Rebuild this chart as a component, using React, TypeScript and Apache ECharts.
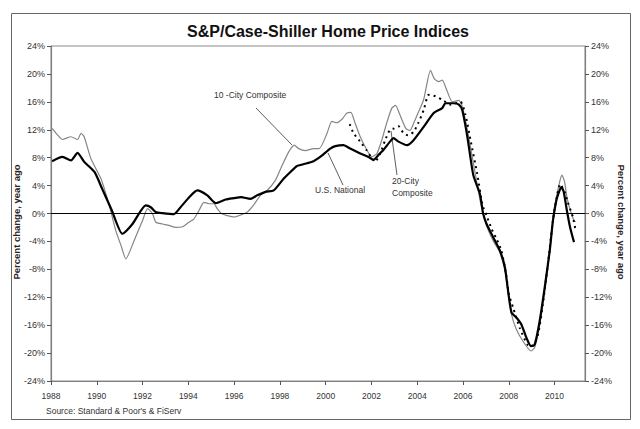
import React, { useEffect, useRef } from "react";
import * as echarts from "echarts";

const FONT = '"Liberation Sans", Arial, Helvetica, sans-serif';

const yTickValues = [-24, -20, -16, -12, -8, -4, 0, 4, 8, 12, 16, 20, 24];
const xTickYears = [1988, 1990, 1992, 1994, 1996, 1998, 2000, 2002, 2004, 2006, 2008, 2010];

// 10-City Composite (thin gray)
const tenCityYears = [
  1988.05, 1988.3, 1988.5, 1988.87, 1989.16, 1989.31, 1989.45, 1989.74, 1990.18, 1990.4,
  1990.6, 1990.83, 1991.05, 1991.27, 1991.63, 1992.0, 1992.22, 1992.43, 1992.58, 1992.87,
  1993.15, 1993.45, 1993.75, 1994.0, 1994.24, 1994.46, 1994.68, 1994.9, 1995.12, 1995.26,
  1995.45, 1995.7, 1996.0, 1996.3, 1996.57, 1996.85, 1997.15, 1997.44, 1997.8, 1998.1,
  1998.38, 1998.63, 1998.82, 1999.11, 1999.47, 1999.72, 2000.06, 2000.27, 2000.49, 2000.71,
  2000.93, 2001.1, 2001.29, 2001.51, 2001.8, 2002.02, 2002.24, 2002.45, 2002.67, 2002.89,
  2003.05, 2003.26, 2003.5, 2003.68, 2003.84, 2004.05, 2004.28, 2004.58, 2004.75, 2004.94,
  2005.09, 2005.31, 2005.53, 2005.82, 2005.97, 2006.19, 2006.48, 2006.75, 2006.9, 2007.06,
  2007.3, 2007.6, 2007.85, 2008.0, 2008.12, 2008.33, 2008.62, 2008.97, 2009.13, 2009.35,
  2009.57, 2009.79, 2009.93, 2010.08, 2010.22, 2010.32, 2010.44, 2010.54, 2010.7, 2010.85,
  2010.92,
];
const tenCityValues = [
  12.2, 11.2, 10.6, 11.0, 10.6, 11.5, 11.0, 7.9, 5.0, 2.8,
  0.5, -2.45, -4.5, -6.5, -3.9, -1.0, 0.7, 0.0, -1.25, -1.5,
  -1.7, -2.0, -1.9, -1.3, -0.8, 0.4, 1.6, 1.4, 1.4, 0.7,
  0.0, -0.3, -0.5, -0.2, 0.2, 1.2, 2.6, 3.3, 4.75, 6.9,
  8.8, 9.8, 9.3, 9.0, 9.3, 9.3, 11.5, 13.2, 13.0, 13.5,
  14.4, 14.5, 12.9, 11.0, 9.1, 8.1, 8.6, 10.5, 13.0, 15.1,
  15.5, 14.0, 12.2, 11.9, 12.9, 14.5, 16.3, 20.5, 19.3, 18.9,
  19.1, 17.5, 16.0, 16.2, 15.3, 12.0, 6.7, 1.8, -0.3, -2.0,
  -3.8, -5.5, -8.5, -12.0, -14.5, -16.6, -18.3, -19.7, -19.2, -16.0,
  -11.0, -5.5, -1.0, 2.3, 4.5, 5.5, 4.5, 2.3, 0.3, -1.0,
  -1.2,
];

// 20-City Composite (dashed black)
const twentyCityYears = [
  2001.05, 2001.22, 2001.58, 2001.8, 2002.0, 2002.16, 2002.38, 2002.6, 2002.81, 2003.0,
  2003.18, 2003.4, 2003.6, 2003.84, 2004.05, 2004.28, 2004.5, 2004.8, 2005.09, 2005.46,
  2005.89, 2006.11, 2006.33, 2006.62, 2006.85, 2007.03, 2007.25, 2007.46, 2007.68, 2007.87,
  2008.01, 2008.19, 2008.48, 2008.82, 2009.04, 2009.28, 2009.49, 2009.71, 2009.93, 2010.08,
  2010.25, 2010.44, 2010.58, 2010.8, 2010.92,
];
const twentyCityValues = [
  12.8, 11.5, 10.0, 9.0, 8.0, 7.4, 8.6, 10.5, 12.0, 12.2,
  12.5, 11.5, 11.2, 11.7, 13.0, 14.8, 17.0, 16.8, 16.3, 15.6,
  16.0, 14.1, 10.5, 5.7, 1.2, -0.3, -2.2, -3.6, -5.3, -8.5,
  -11.6, -13.5, -16.4, -18.8, -19.0, -17.3, -13.0, -7.2, -1.0, 2.1,
  4.2, 3.1, 1.6, -0.5, -2.45,
];

// U.S. National (thick black)
const nationalYears = [
  1988.05, 1988.5, 1988.87, 1989.16, 1989.45, 1989.9, 1990.2, 1990.65, 1991.12, 1991.56,
  1992.14, 1992.36, 1992.58, 1992.87, 1993.37, 1993.66, 1994.03, 1994.39, 1994.83, 1995.2,
  1995.63, 1996.0, 1996.3, 1996.71, 1997.01, 1997.37, 1997.73, 1998.17, 1998.46, 1998.75,
  1999.19, 1999.47, 1999.76, 2000.2, 2000.42, 2000.78, 2001.07, 2001.51, 2001.87, 2002.09,
  2002.31, 2002.52, 2002.81, 2002.96, 2003.18, 2003.55, 2003.84, 2004.28, 2004.72, 2005.09,
  2005.23, 2005.6, 2005.82, 2005.97, 2006.19, 2006.45, 2006.74, 2006.88, 2007.03, 2007.32,
  2007.61, 2007.83, 2007.97, 2008.12, 2008.33, 2008.55, 2008.77, 2008.97, 2009.13, 2009.35,
  2009.57, 2009.79, 2009.93, 2010.08, 2010.22, 2010.3, 2010.4, 2010.54, 2010.68, 2010.85,
];
const nationalValues = [
  7.5, 8.1, 7.6, 8.7, 7.4, 5.95, 3.8, 0.5, -2.9, -1.5,
  1.15, 0.9, 0.2, 0.05, -0.1, 0.9, 2.3, 3.3, 2.6, 1.5,
  2.0, 2.2, 2.35, 2.1, 2.6, 3.1, 3.3, 5.0, 5.95, 6.8,
  7.2, 7.5, 8.1, 9.3, 9.65, 9.8, 9.3, 8.6, 8.1, 7.7,
  8.4, 9.1, 10.3, 10.8, 10.3, 9.8, 10.5, 12.4, 14.4, 15.1,
  15.8, 15.8, 15.6, 14.8, 11.0, 5.5, 2.8, 0.0, -1.5, -3.4,
  -5.3, -7.7, -11.1, -14.2, -14.9, -15.9, -17.8, -19.0, -18.8, -15.4,
  -10.6, -5.3, -1.0, 1.9, 3.3, 3.8, 3.1, 0.4, -2.0, -4.1,
];

const zip = (xs: number[], ys: number[]) => xs.map((x, i) => [x, ys[i]]);

export default function App() {
  const ref = useRef<HTMLDivElement>(null);

  useEffect(() => {
    if (!ref.current) return;
    const chart = echarts.init(ref.current, null, { renderer: "svg" });
    const labelStyle = { fontFamily: FONT, fontSize: 9, color: "#333" };
    const yAxisBase = {
      type: "value" as const,
      min: -24,
      max: 24,
      interval: 4,
      splitLine: { show: false },
      axisLine: { show: true, lineStyle: { color: "#808080", width: 1.2 } },
      axisTick: { show: true, inside: false, length: 4, lineStyle: { color: "#555" } },
      axisLabel: { ...labelStyle, margin: 6, formatter: (v: number) => `${v}%` },
    };
    chart.setOption({
      animation: false,
      backgroundColor: "#fff",
      grid: {
        left: 51,
        right: 55,
        top: 46,
        bottom: 48,
        show: true,
        borderColor: "#8a8a8a",
        borderWidth: 1,
        containLabel: false,
      },
      xAxis: {
        type: "value",
        min: 1988,
        max: 2011.33,
        interval: 2,
        splitLine: { show: false },
        axisLine: { show: true, onZero: false, lineStyle: { color: "#808080", width: 1.2 } },
        axisTick: { show: true, length: 4, lineStyle: { color: "#555" } },
        axisLabel: {
          fontFamily: FONT,
          fontSize: 8.5,
          color: "#333",
          margin: 10,
          showMaxLabel: false,
          formatter: (v: number) => (xTickYears.includes(v) ? String(v) : ""),
        },
      },
      yAxis: [
        { ...yAxisBase, position: "left" },
        { ...yAxisBase, position: "right" },
      ],
      series: [
        {
          name: "10-City Composite",
          type: "line",
          data: zip(tenCityYears, tenCityValues),
          showSymbol: false,
          smooth: 0.2,
          lineStyle: { color: "#858585", width: 1.2 },
          z: 2,
          markLine: {
            silent: true,
            symbol: "none",
            label: { show: false },
            lineStyle: { color: "#000", width: 1.2, type: "solid" },
            data: [{ yAxis: 0 }],
          },
        },
        {
          name: "20-City Composite",
          type: "line",
          data: zip(twentyCityYears, twentyCityValues),
          showSymbol: false,
          smooth: 0.2,
          lineStyle: { color: "#000", width: 2, type: [2, 4] },
          z: 3,
        },
        {
          name: "U.S. National",
          type: "line",
          data: zip(nationalYears, nationalValues),
          showSymbol: false,
          smooth: 0.2,
          lineStyle: { color: "#000", width: 2.2 },
          z: 4,
        },
      ],
      graphic: [
        {
          type: "rect",
          shape: { x: 11.5, y: 13.5, width: 619, height: 406 },
          style: { fill: "none", stroke: "#666", lineWidth: 1 },
          z: -1,
        },
        {
          type: "text",
          x: 328,
          y: 31,
          style: {
            text: "S&P/Case-Shiller Home Price Indices",
            font: `bold 16px ${FONT}`,
            fill: "#111",
            align: "center",
            verticalAlign: "middle",
          },
        },
        {
          type: "text",
          x: 16,
          y: 222,
          rotation: Math.PI / 2,
          style: {
            text: "Percent change, year ago",
            font: `bold 9.5px ${FONT}`,
            fill: "#2a2222",
            align: "center",
            verticalAlign: "middle",
          },
        },
        {
          type: "text",
          x: 621,
          y: 222,
          rotation: -Math.PI / 2,
          style: {
            text: "Percent change, year ago",
            font: `bold 9.5px ${FONT}`,
            fill: "#2a2222",
            align: "center",
            verticalAlign: "middle",
          },
        },
        {
          type: "text",
          x: 46,
          y: 411,
          style: {
            text: "Source: Standard & Poor's & FiServ",
            font: `8.5px ${FONT}`,
            fill: "#333",
            align: "left",
            verticalAlign: "middle",
          },
        },
        {
          type: "text",
          x: 214,
          y: 95,
          style: {
            text: "10 -City Composite",
            font: `8.5px ${FONT}`,
            fill: "#333",
            align: "left",
            verticalAlign: "middle",
          },
        },
        {
          type: "line",
          shape: { x1: 256, y1: 108, x2: 292, y2: 145 },
          style: { stroke: "#333", lineWidth: 0.8 },
        },
        {
          type: "text",
          x: 315,
          y: 190,
          style: {
            text: "U.S. National",
            font: `8.5px ${FONT}`,
            fill: "#333",
            align: "left",
            verticalAlign: "middle",
          },
        },
        {
          type: "line",
          shape: { x1: 328, y1: 153, x2: 343, y2: 185 },
          style: { stroke: "#333", lineWidth: 0.8 },
        },
        {
          type: "text",
          x: 392,
          y: 181,
          style: {
            text: "20-City",
            font: `8.5px ${FONT}`,
            fill: "#333",
            align: "left",
            verticalAlign: "middle",
          },
        },
        {
          type: "text",
          x: 392,
          y: 193,
          style: {
            text: "Composite",
            font: `8.5px ${FONT}`,
            fill: "#333",
            align: "left",
            verticalAlign: "middle",
          },
        },
        {
          type: "line",
          shape: { x1: 391, y1: 131, x2: 397, y2: 175 },
          style: { stroke: "#333", lineWidth: 0.8 },
        },
      ],
    });
    return () => chart.dispose();
  }, []);

  return (
    <div
      ref={ref}
      style={{ position: "absolute", left: 0, top: 0, width: 640, height: 429, background: "#fff" }}
    />
  );
}
